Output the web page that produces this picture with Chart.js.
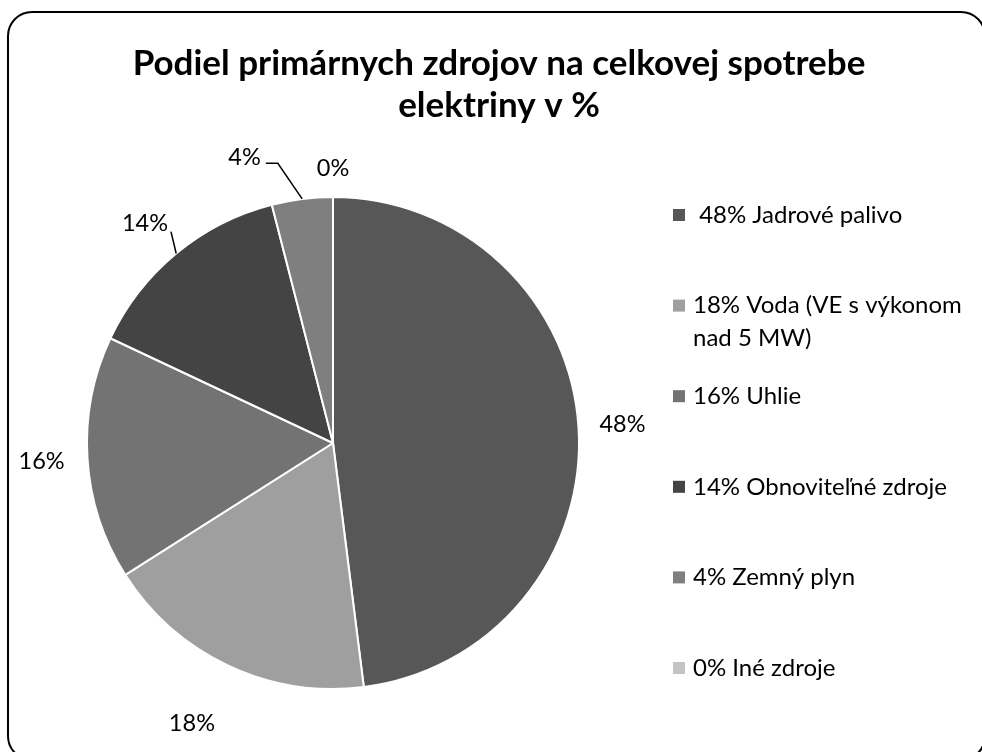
<!DOCTYPE html>
<html>
<head>
<meta charset="utf-8">
<script src="https://cdn.jsdelivr.net/npm/chart.js@4.4.1/dist/chart.umd.min.js"></script>
<style>
  html, body { margin: 0; padding: 0; background: #ffffff; }
  #wrap { width: 982px; height: 752px; }
</style>
</head>
<body>
<div id="wrap"><canvas id="c" width="982" height="752"></canvas></div>
<script>
// ---- data ----
const categories = ["Jadrové palivo", "Voda (VE s výkonom nad 5 MW)", "Uhlie", "Obnoviteľné zdroje", "Zemný plyn", "Iné zdroje"];
const shares = [48, 18, 16, 14, 4, 0];
const dataLabels = ["48%", "18%", "16%", "14%", "4%", "0%"];
const legendLabels = [
  [" 48% Jadrové palivo"],
  ["18% Voda (VE s výkonom", "nad 5 MW)"],
  ["16% Uhlie"],
  ["14% Obnoviteľné zdroje"],
  ["4% Zemný plyn"],
  ["0% Iné zdroje"]
];
const titleLines = ["Podiel primárnych zdrojov na celkovej spotrebe", "elektriny v %"];

// ---- style ----
const sliceColors = ["#575757", "#9f9f9f", "#737373", "#444444", "#7f7f7f", "#c4c4c4"];
const FONT = "Lato, 'Open Sans', sans-serif";
const labelGap = [44, 68, 46, 43, 53, 29];      // radial distance beyond the rim
const labelTurnDeg = [0, 1.5, 0, -1, -10, 0];   // small angular shift of the label

const overlay = {
  id: 'overlay',
  afterDraw(chart) {
    const ctx = chart.ctx;
    ctx.save();
    // frame
    ctx.strokeStyle = '#000';
    ctx.lineWidth = 2;
    ctx.beginPath();
    ctx.roundRect(8, 12, 977, 748, 24);
    ctx.stroke();

    // title
    ctx.fillStyle = '#000';
    ctx.textAlign = 'center';
    ctx.textBaseline = 'alphabetic';
    ctx.font = "bold 35px " + FONT;
    ctx.fillText(titleLines[0], 499, 75);
    ctx.fillText(titleLines[1], 499, 117);

    // data labels
    const meta = chart.getDatasetMeta(0);
    ctx.font = "23.5px " + FONT;
    ctx.textBaseline = 'middle';
    const boxes = [];
    meta.data.forEach((arc, i) => {
      const p = arc.getProps(['x', 'y', 'startAngle', 'endAngle', 'outerRadius'], true);
      const mid = (p.startAngle + p.endAngle) / 2;
      const a = mid + labelTurnDeg[i] * Math.PI / 180;
      const R = p.outerRadius + labelGap[i];
      const lx = p.x + Math.cos(a) * R;
      const ly = p.y + Math.sin(a) * R;
      ctx.fillText(dataLabels[i], lx, ly);
      const w = ctx.measureText(dataLabels[i]).width;
      boxes.push({ lx, ly, w, mid, p });
    });

    // leader lines
    ctx.strokeStyle = '#000';
    ctx.lineWidth = 1.5;
    // 4% label: elbow leader
    {
      const b = boxes[4];
      const ax = b.p.x + Math.cos(b.mid) * b.p.outerRadius;
      const ay = b.p.y + Math.sin(b.mid) * b.p.outerRadius;
      const sx = b.lx + b.w / 2 + 5, sy = b.ly + 6;
      ctx.beginPath();
      ctx.moveTo(sx, sy);
      ctx.lineTo(sx + 12, sy);
      ctx.lineTo(ax, ay);
      ctx.stroke();
    }
    // 14% label: straight leader
    {
      const b = boxes[3];
      const ax = b.p.x + Math.cos(b.mid) * b.p.outerRadius;
      const ay = b.p.y + Math.sin(b.mid) * b.p.outerRadius;
      ctx.beginPath();
      ctx.moveTo(b.lx + b.w / 2 + 3, b.ly + 8);
      ctx.lineTo(ax, ay);
      ctx.stroke();
    }

    // legend
    ctx.textAlign = 'left';
    ctx.textBaseline = 'middle';
    ctx.font = "24px " + FONT;
    legendLabels.forEach((lines, i) => {
      const cy = 215 + i * 90.6;
      ctx.fillStyle = sliceColors[i];
      ctx.fillRect(673, cy - 6, 12, 12);
      ctx.fillStyle = '#000';
      lines.forEach((t, k) => ctx.fillText(t, 693, cy + k * 33));
    });
    ctx.restore();
  }
};

new Chart(document.getElementById('c'), {
  type: 'pie',
  data: {
    labels: categories,
    datasets: [{
      data: shares,
      backgroundColor: sliceColors,
      borderColor: '#ffffff',
      borderWidth: 2
    }]
  },
  options: {
    responsive: false,
    animation: false,
    devicePixelRatio: 1,
    layout: { padding: { left: 86, right: 402, top: 196, bottom: 62 } },
    plugins: {
      legend: { display: false },
      tooltip: { enabled: false },
      title: { display: false }
    }
  },
  plugins: [overlay]
});
</script>
</body>
</html>
